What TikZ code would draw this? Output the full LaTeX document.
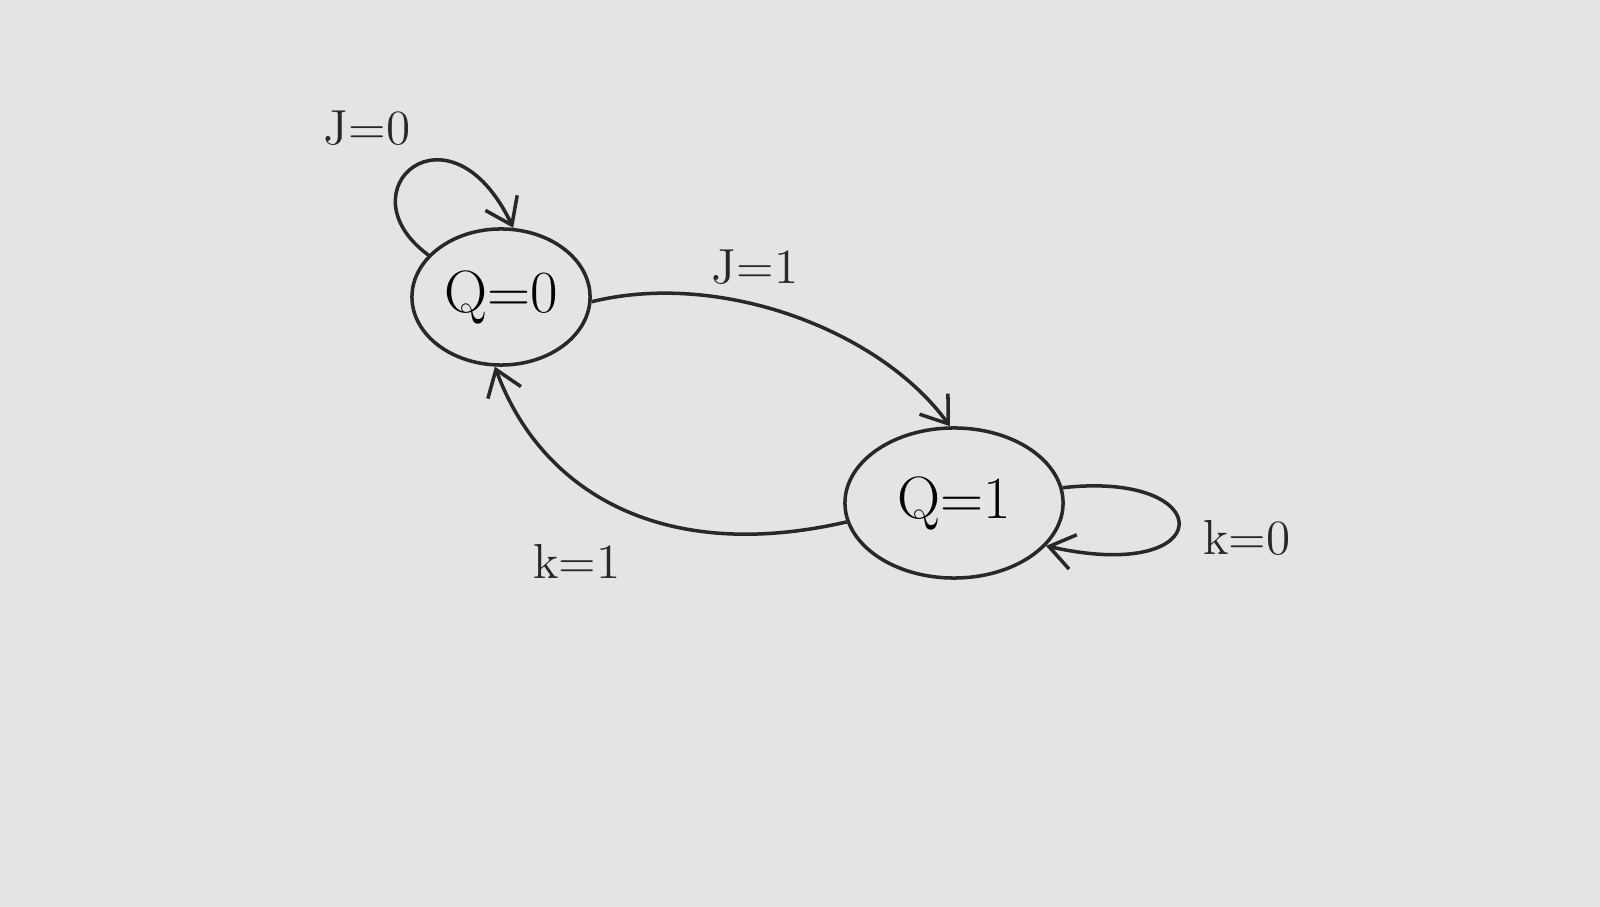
\documentclass[tikz,border=0pt]{standalone}
\usetikzlibrary{shapes.geometric,arrows.meta}
\definecolor{paper}{RGB}{228,228,228}
\definecolor{ink}{RGB}{40,40,40}
\begin{document}
\begin{tikzpicture}[x=0.01cm,y=-0.01cm,
  statenode/.style={ellipse,draw=ink,line width=1pt,inner sep=0pt,font=\fontsize{17}{19}\selectfont},
  arr/.style={draw=ink,line width=1pt,-{Straight Barb[length=7pt,width=10pt]}},
  lbl/.style={font=\fontsize{14}{16}\selectfont,text=ink}]
\fill[paper] (0,0) rectangle (1600,907);
\useasboundingbox (0,0) rectangle (1600,907);
\node[statenode,minimum width=1.78cm,minimum height=1.36cm] (q0) at (501,297) {Q=0};
\node[statenode,minimum width=2.18cm,minimum height=1.5cm] (q1) at (954,503) {Q=1};
\node[lbl] (j0) at (367,128) {J=0};
\node[lbl] (j1) at (755,267) {J=1};
\node[lbl] (k1) at (577,561) {k=1};
\node[lbl] (k0) at (1247,538) {k=0};
\draw[arr] (q0.150) .. controls (340,190) and (450,95) .. (q0.80);
\draw[arr] (q0.-3) .. controls (720,270) and (880,330) .. (q1.93);
\draw[arr] (q1.190) .. controls (660,565) and (540,490) .. (q0.-95);
\draw[arr] (q1.8) .. controls (1220,470) and (1220,585) .. (q1.-25);
\end{tikzpicture}
\end{document}
